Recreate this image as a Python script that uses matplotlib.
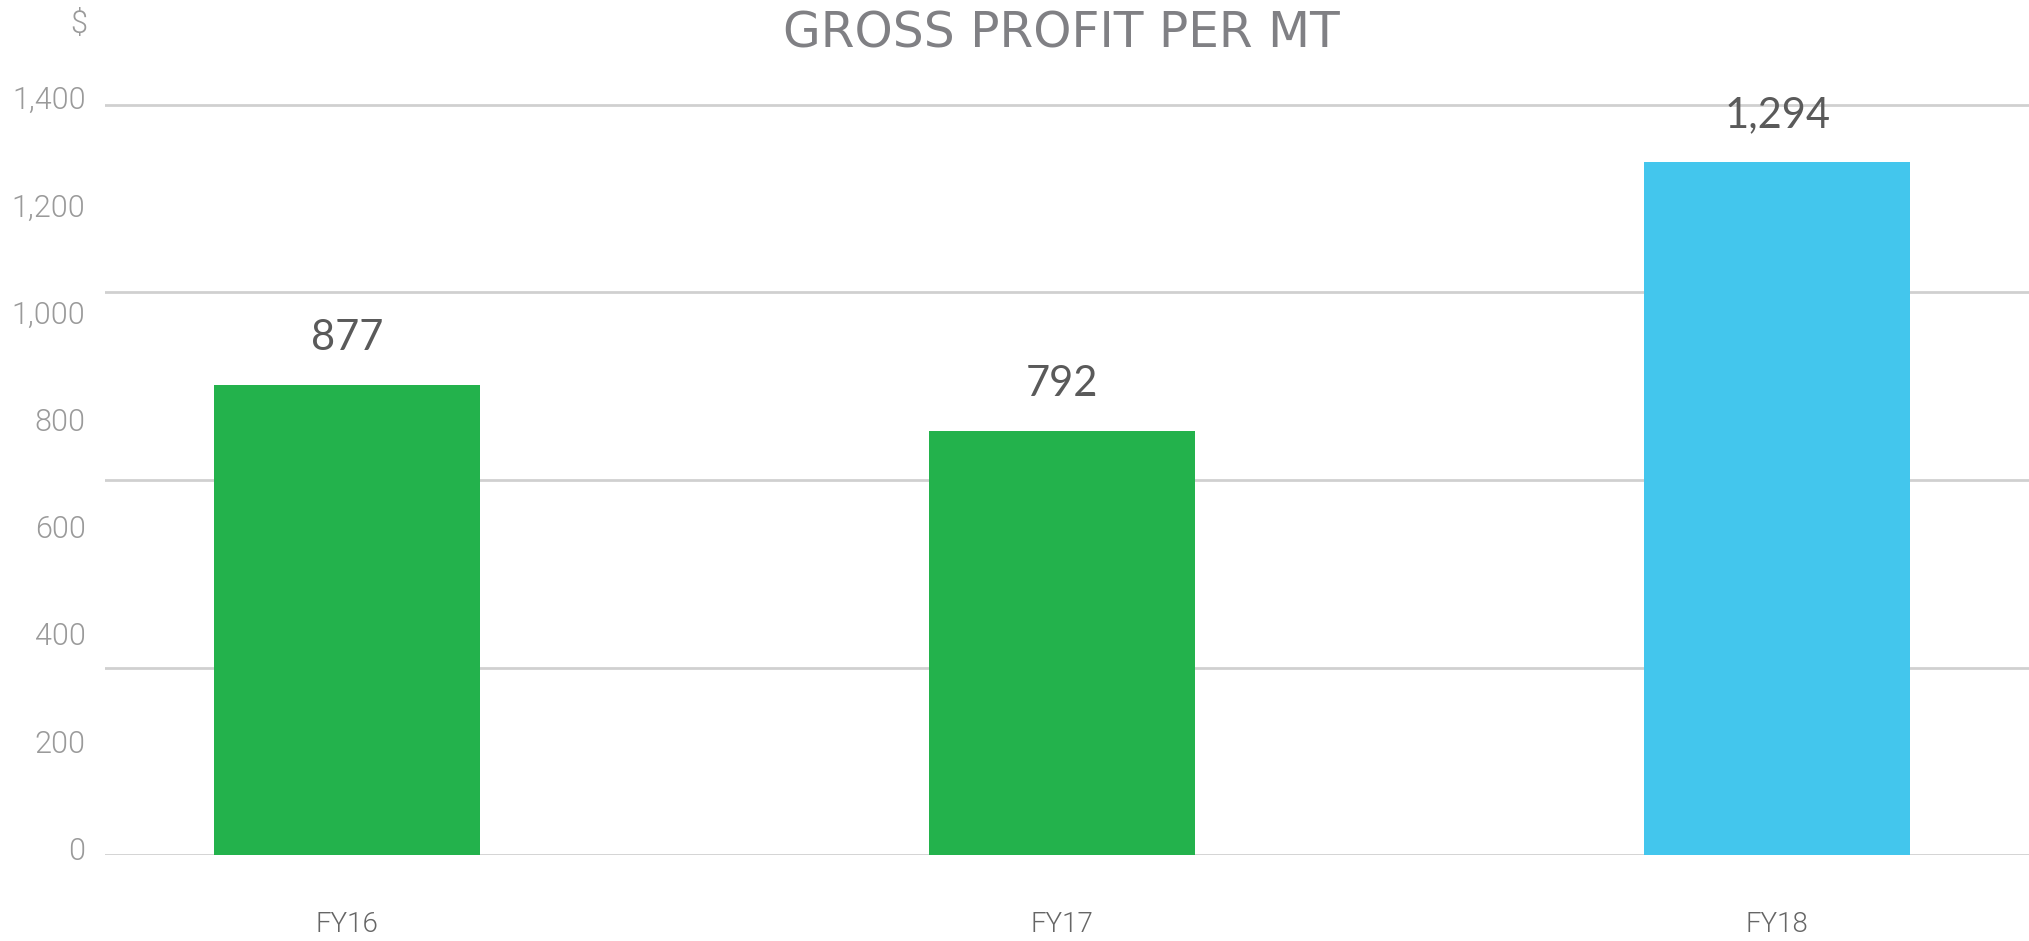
import matplotlib
matplotlib.use("Agg")
import matplotlib.pyplot as plt
import matplotlib.transforms as mtransforms
import numpy as np

categories = ["FY16", "FY17", "FY18"]
values = [877, 792, 1294]
bar_colors = ["#23b24c", "#23b24c", "#43c6ed"]
value_labels = ["877", "792", "1,294"]
ytick_values = [0, 200, 400, 600, 800, 1000, 1200, 1400]
ytick_labels = ["0", "200", "400", "600", "800", "1,000", "1,200", "1,400"]
grid_values = [0, 350, 700, 1050, 1400]
title = "GROSS PROFIT PER MT"

W, H = 2029, 941
fig = plt.figure(figsize=(W / 100, H / 100), dpi=100)
plt.rcParams['font.family'] = ['Lato', 'DejaVu Sans']
thin = ['Roboto', 'DejaVu Sans']

# axes placement (pixels)
left_px = 105
zero_px = 855.4
top_1400_px = 104.8
ppu = (zero_px - top_1400_px) / 1400.0
ymax = 1500
ax_h = ymax * ppu
ax = fig.add_axes([left_px / W, (H - zero_px) / H, 1 - left_px / W, ax_h / H])

x = np.arange(len(categories))
ax.bar(x, values, width=0.372, color=bar_colors, zorder=3)
for g in grid_values:
    ax.axhline(g, color="#d0d0d0", lw=2.0, zorder=1)

ax.set_xlim(-0.338, 2.352)
ax.set_ylim(0, ymax)
for s in ax.spines.values():
    s.set_visible(False)

ax.set_yticks(ytick_values)
ax.set_yticklabels(ytick_labels, fontsize=22, color="#9a9a9a",
                   family=thin, fontweight=300)
ax.tick_params(axis="y", length=0, pad=14)
off = mtransforms.ScaledTranslation(0, 7 / 100, fig.dpi_scale_trans)
for lab in ax.get_yticklabels():
    lab.set_transform(lab.get_transform() + off)

ax.set_xticks(x)
ax.set_xticklabels(categories, fontsize=20, color="#666666",
                   family=thin, fontweight=300)
ax.tick_params(axis="x", length=0, pad=40)

for xi, v, lab in zip(x, values, value_labels):
    ax.annotate(lab, (xi, v), xytext=(0, 20), textcoords="offset points",
                ha="center", va="bottom", fontsize=30, color="#5a5a5a")

fig.text(1061 / W, 1 - 33 / H, title, ha="center", va="center", fontsize=35,
         color="#808084", family=['DejaVu Sans'])
fig.text(79 / W, 1 - 25 / H, "$", ha="center", va="center", fontsize=22,
         color="#9a9a9a", family=thin, fontweight=300)

fig.savefig("out.png", dpi=100)
